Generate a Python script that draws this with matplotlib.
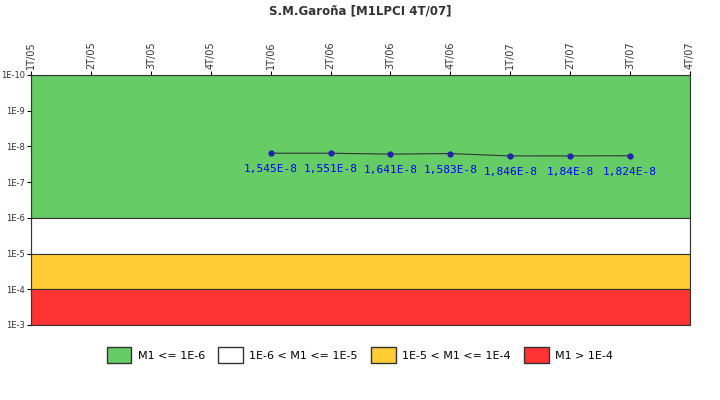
import matplotlib
matplotlib.use("Agg")
import matplotlib.pyplot as plt
from matplotlib.patches import Patch

quarters = ["1T/05","2T/05","3T/05","4T/05","1T/06","2T/06","3T/06","4T/06","1T/07","2T/07","3T/07","4T/07"]
point_quarters = ["1T/06","2T/06","3T/06","4T/06","1T/07","2T/07","3T/07"]
values = [1.545e-8, 1.551e-8, 1.641e-8, 1.583e-8, 1.846e-8, 1.84e-8, 1.824e-8]
value_labels = ["1,545E-8","1,551E-8","1,641E-8","1,583E-8","1,846E-8","1,84E-8","1,824E-8"]
band_edges = [1e-10, 1e-6, 1e-5, 1e-4, 1e-3]
band_colors = ["#66cc66", "#ffffff", "#ffcc33", "#ff3333"]
band_names = ["M1 <= 1E-6", "1E-6 < M1 <= 1E-5", "1E-5 < M1 <= 1E-4", "M1 > 1E-4"]
ytick_vals = [1e-10,1e-9,1e-8,1e-7,1e-6,1e-5,1e-4,1e-3]
ytick_labels = ["1E-10","1E-9","1E-8","1E-7","1E-6","1E-5","1E-4","1E-3"]

fig = plt.figure(figsize=(7.2,4.0), dpi=100)
ax = fig.add_axes([31/720, 1-325/400, 659/720, 250/400])
ax.set_yscale("log")
ax.set_ylim(1e-3, 1e-10)
ax.set_xlim(0, len(quarters)-1)
for i, c in enumerate(band_colors):
    ax.axhspan(band_edges[i], band_edges[i+1], facecolor=c, edgecolor="#333333", linewidth=0.8)
xs = [quarters.index(q) for q in point_quarters]
ax.plot(xs, values, color="#333333", linewidth=0.8, marker="o", markersize=3.5,
        markerfacecolor="#2222aa", markeredgecolor="#2222aa")
for x, v, t in zip(xs, values, value_labels):
    ax.annotate(t, (x, v), xytext=(0, -8), textcoords="offset points", ha="center", va="top",
                fontsize=8, color="#0000ff", family="DejaVu Sans Mono")
ax.set_xticks(range(len(quarters)))
ax.set_xticklabels(quarters, rotation=90, fontsize=7, color="#333333")
ax.xaxis.tick_top()
ax.set_yticks(ytick_vals)
ax.set_yticklabels(ytick_labels, fontsize=6, color="#333333")
ax.minorticks_off()
ax.tick_params(length=3, pad=1.5)
for s in ax.spines.values():
    s.set_color("#333333")
fig.text(0.5, 1-11/400, "S.M.Garoña [M1LPCI 4T/07]", ha="center", va="center",
         fontsize=8.5, fontweight="bold", color="#333333")
handles = [Patch(facecolor=c, edgecolor="#333333", label=n) for c, n in zip(band_colors, band_names)]
fig.legend(handles=handles, loc="center", bbox_to_anchor=(0.5, 1-355/400), ncol=4, frameon=False,
           fontsize=8, handlelength=2.2, handleheight=1.8, columnspacing=1.2, handletextpad=0.6)
fig.savefig("out.png", dpi=100)
